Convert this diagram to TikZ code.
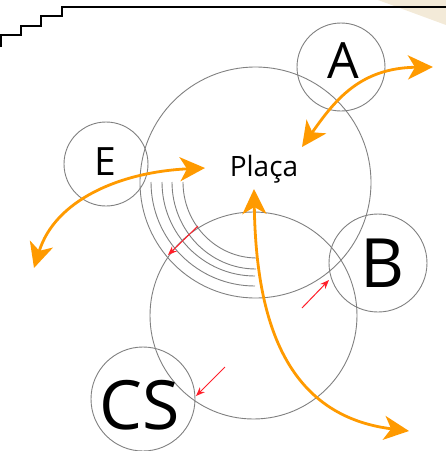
\documentclass[tikz,border=0pt]{standalone}
\usepackage{fontspec}
\setmainfont{Open Sans}
\usetikzlibrary{arrows.meta}

\definecolor{flow}{HTML}{FF9A00}
\definecolor{ring}{HTML}{808080}
\definecolor{sand}{HTML}{F3EAD8}
\definecolor{push}{HTML}{FF1F2A}

\begin{document}
\begin{tikzpicture}[
x=1pt, y=-1pt,
zone/.style={draw=ring, line width=0.9pt, circle, inner sep=0pt},
zone label/.style={inner sep=0pt, text=black},
flow both/.style={draw=flow, line width=2.8pt, {Stealth[length=25pt, width=24pt, inset=7pt]}-{Stealth[length=25pt, width=24pt, inset=7pt]}},
push arrow/.style={draw=push, line width=1pt, -{Stealth[length=9pt, width=7pt]}},
arc line/.style={draw=ring, line width=0.9pt},
]
\useasboundingbox (0,0) rectangle (446,451);

% Corner and stairs
\fill[sand] (378,0) -- (446,25) -- (446,0) -- cycle;
\draw[line width=2pt, miter limit=10] (1,47) -- (1,35) -- (21,35) -- (21,25.5) -- (41,25.5) -- (41,16) -- (62,16) -- (62,7) -- (446,7);

% Plaza and the other zones
\node[zone, minimum size=231pt] (placa) at (255.5,182.5) {};
\node[zone, minimum size=207pt] (lower) at (253.5,315.5) {};
\node[zone, minimum size=88pt] (a) at (341,67) {};
\node[zone, minimum size=84pt] (e) at (106,164) {};
\node[zone, minimum size=98pt] (b) at (378,263) {};
\node[zone, minimum size=104pt] (cs) at (143,399) {};

% Labels
\node[zone label, font=\fontsize{50}{50}\selectfont] (a label) at (343,61) {A};
\node[zone label, font=\fontsize{39}{39}\selectfont] (e label) at (105,162) {E};
\node[zone label, font=\fontsize{68}{68}\selectfont] (b label) at (382.5,263.5) {B};
\node[zone label, font=\fontsize{68}{68}\selectfont] (cs label) at (140,405.5) {CS};
\node[zone label, font=\fontsize{28}{28}\selectfont, anchor=base] (name) at (264,176.5) {Plaça};

% Steps of the plaza
\draw[arc line] (151,182) arc[start angle=180, end angle=270, x radius=104, y radius=-104];
\draw[arc line] (162,182) arc[start angle=180, end angle=270, x radius=93, y radius=-94];
\draw[arc line] (172,182) arc[start angle=180, end angle=270, x radius=84, y radius=-87];
\draw[arc line] (183,182) arc[start angle=180, end angle=270, x radius=74, y radius=-76];

% Free ends of the arrows
\coordinate (a in) at (302,147);
\coordinate (a out) at (433,67);
\coordinate (e in) at (205,168);
\coordinate (e out) at (34,268);
\coordinate (p in) at (254,189);
\coordinate (p out) at (409,431);
\coordinate (r1) at (198,226);
\coordinate (r1 end) at (168,255);
\coordinate (r2) at (302,308);
\coordinate (r2 end) at (329,280);
\coordinate (r3) at (225,367);
\coordinate (r3 end) at (196,396);

% Orange arrows
\draw[flow both] (a in) .. controls (335,100) and (360,68) .. (a out);
\draw[flow both] (e out) .. controls (55,200) and (120,172) .. (e in);
\draw[flow both] (p in) .. controls (256,310) and (280,415) .. (p out);

% Red arrows
\draw[push arrow] (r1) -- (r1 end);
\draw[push arrow] (r2) -- (r2 end);
\draw[push arrow] (r3) -- (r3 end);
\end{tikzpicture}
\end{document}
